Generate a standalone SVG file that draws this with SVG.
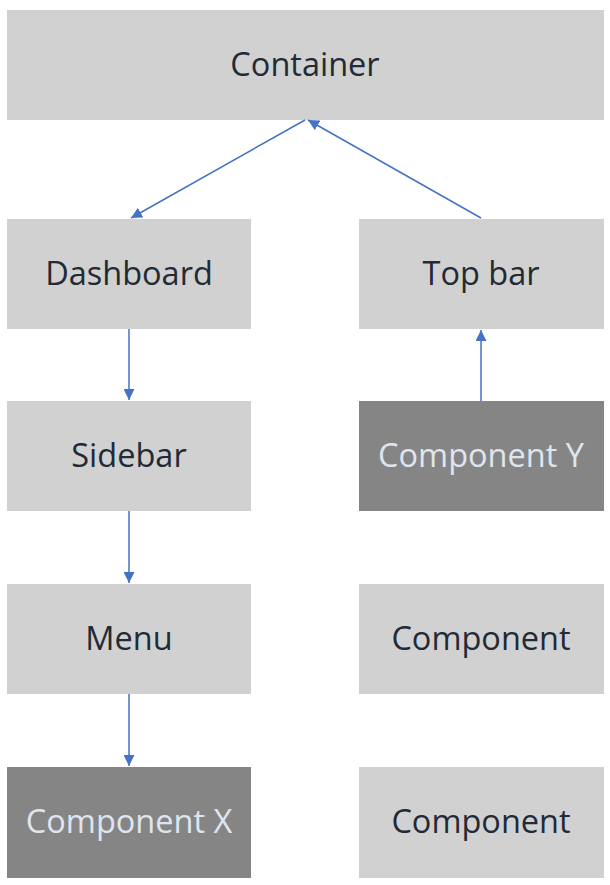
<svg xmlns="http://www.w3.org/2000/svg" width="610" height="885" viewBox="0 0 610 885">
<defs>
<style>
.box{fill:#d1d1d1}
.dark{fill:#858585}
.t{font-family:"Open Sans","Noto Sans",sans-serif;font-size:32.5px;fill:#222a35;text-anchor:middle;dominant-baseline:central}
.tl{fill:#dfe5ef}
.c{stroke:#4472c4;stroke-width:1.5;fill:none;marker-end:url(#ah)}
</style>
<marker id="ah" viewBox="0 0 10 10" refX="10" refY="5" markerWidth="11" markerHeight="11" markerUnits="userSpaceOnUse" orient="auto">
<path d="M0,0 L10,5 L0,10 z" fill="#4472c4"/>
</marker>
</defs>
<rect width="610" height="885" fill="#fff"/>
<g id="container"><rect class="box" x="7" y="10" width="597" height="110"/><text class="t" x="305" y="63">Container</text></g>
<g id="dashboard"><rect class="box" x="7" y="219" width="244" height="110"/><text class="t" x="129" y="272">Dashboard</text></g>
<g id="topbar"><rect class="box" x="359" y="219" width="245" height="110"/><text class="t" x="481" y="272">Top bar</text></g>
<g id="sidebar"><rect class="box" x="7" y="401" width="244" height="110"/><text class="t" x="129" y="454">Sidebar</text></g>
<g id="componentY"><rect class="dark" x="359" y="401" width="245" height="110"/><text class="t tl" x="481" y="454">Component Y</text></g>
<g id="menu"><rect class="box" x="7" y="584" width="244" height="110"/><text class="t" x="129" y="637">Menu</text></g>
<g id="component1"><rect class="box" x="359" y="584" width="245" height="110"/><text class="t" x="481" y="637">Component</text></g>
<g id="componentX"><rect class="dark" x="7" y="767" width="244" height="111"/><text class="t tl" x="129" y="820">Component X</text></g>
<g id="component2"><rect class="box" x="359" y="767" width="245" height="111"/><text class="t" x="481" y="820">Component</text></g>
<g id="connectors">
<line class="c" x1="305" y1="120" x2="131" y2="218"/>
<line class="c" x1="481" y1="218" x2="308" y2="120"/>
<line class="c" x1="129" y1="329" x2="129" y2="400"/>
<line class="c" x1="129" y1="511" x2="129" y2="583"/>
<line class="c" x1="129" y1="694" x2="129" y2="766"/>
<line class="c" x1="481" y1="401" x2="481" y2="330"/>
</g>
</svg>
